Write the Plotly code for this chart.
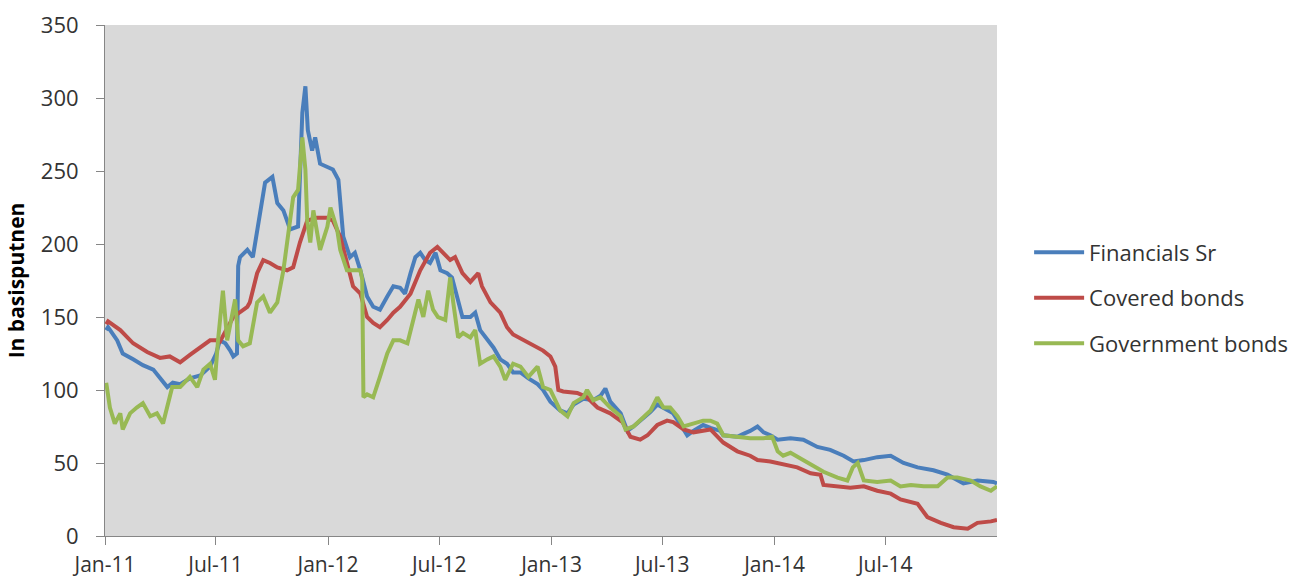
import plotly.graph_objects as go

# Financials Sr spread (basis points)
fin_dates = [
    "2011-01-03", "2011-01-06", "2011-01-21", "2011-01-30", "2011-02-16", "2011-03-04",
    "2011-03-21", "2011-04-04", "2011-04-13", "2011-04-22", "2011-05-04", "2011-05-20",
    "2011-06-06", "2011-06-22", "2011-07-02", "2011-07-08", "2011-07-17", "2011-07-25",
    "2011-07-30", "2011-08-05", "2011-08-07", "2011-08-10", "2011-08-22", "2011-08-31",
    "2011-09-12", "2011-09-20", "2011-10-02", "2011-10-10", "2011-10-20", "2011-10-31",
    "2011-11-13", "2011-11-20", "2011-11-25", "2011-11-29", "2011-12-06", "2011-12-11",
    "2011-12-19", "2011-12-31", "2012-01-09", "2012-01-18", "2012-01-21", "2012-01-26",
    "2012-02-06", "2012-02-14", "2012-02-23", "2012-03-05", "2012-03-15", "2012-03-26",
    "2012-04-07", "2012-04-17", "2012-04-28", "2012-05-06", "2012-05-15", "2012-05-23",
    "2012-05-31", "2012-06-08", "2012-06-16", "2012-06-25", "2012-07-03", "2012-07-14",
    "2012-07-22", "2012-07-31", "2012-08-08", "2012-08-21", "2012-08-29", "2012-09-06",
    "2012-09-18", "2012-09-28", "2012-10-09", "2012-10-20", "2012-10-30", "2012-11-11",
    "2012-11-24", "2012-12-09", "2012-12-18", "2012-12-30", "2013-01-15", "2013-01-27",
    "2013-02-06", "2013-02-22", "2013-03-10", "2013-03-22", "2013-03-30", "2013-04-07",
    "2013-04-24", "2013-05-05", "2013-05-15", "2013-05-26", "2013-06-12", "2013-06-23",
    "2013-07-09", "2013-07-19", "2013-08-05", "2013-08-11", "2013-08-21", "2013-09-06",
    "2013-09-18", "2013-10-04", "2013-10-09", "2013-11-01", "2013-11-11", "2013-11-22",
    "2013-12-04", "2013-12-14", "2013-12-25", "2014-01-06", "2014-01-27", "2014-02-17",
    "2014-03-12", "2014-04-02", "2014-04-24", "2014-05-10", "2014-05-27", "2014-06-18",
    "2014-07-10", "2014-07-31", "2014-08-23", "2014-09-18", "2014-10-11", "2014-11-06",
    "2014-11-29", "2014-12-25", "2014-12-31",
]
fin_values = [
    141, 143, 134, 125, 121, 117,
    114, 107, 102, 105, 104, 108,
    110, 116, 125, 134, 132, 127,
    123, 125, 185, 191, 196, 191,
    221, 242, 246, 228, 223, 210,
    212, 290, 308, 278, 264, 273,
    255, 253, 251, 244, 228, 205,
    191, 194, 182, 164, 157, 155,
    164, 171, 170, 166, 180, 191,
    194, 189, 187, 194, 182, 180,
    177, 162, 150, 150, 153, 141,
    134, 129, 121, 118, 112, 112,
    108, 104, 100, 92, 86, 84,
    90, 94, 93, 96, 101, 92,
    84, 72, 75, 79, 85, 90,
    86, 84, 73, 69, 72, 76,
    74, 72, 69, 68, 70, 72,
    75, 71, 69, 66, 67, 66,
    61, 59, 55, 51, 52, 54,
    55, 50, 47, 45, 42, 36,
    38, 37, 36,
]

# Covered bonds spread (basis points)
cov_dates = [
    "2011-01-03", "2011-01-06", "2011-01-26", "2011-02-16", "2011-03-11", "2011-04-01",
    "2011-04-17", "2011-05-04", "2011-05-20", "2011-06-06", "2011-06-22", "2011-07-02",
    "2011-07-08", "2011-07-30", "2011-08-10", "2011-08-22", "2011-08-26", "2011-09-07",
    "2011-09-17", "2011-09-28", "2011-10-10", "2011-10-26", "2011-11-05", "2011-11-16",
    "2011-11-28", "2011-12-14", "2011-12-31", "2012-01-09", "2012-01-21", "2012-02-01",
    "2012-02-11", "2012-02-23", "2012-03-05", "2012-03-15", "2012-03-26", "2012-04-07",
    "2012-04-17", "2012-04-28", "2012-05-15", "2012-05-31", "2012-06-16", "2012-06-28",
    "2012-07-08", "2012-07-19", "2012-07-27", "2012-08-08", "2012-08-21", "2012-09-03",
    "2012-09-09", "2012-09-23", "2012-10-09", "2012-10-20", "2012-10-30", "2012-11-16",
    "2012-12-02", "2012-12-18", "2012-12-30", "2013-01-07", "2013-01-12", "2013-01-20",
    "2013-02-12", "2013-02-28", "2013-03-17", "2013-04-07", "2013-04-27", "2013-05-10",
    "2013-05-26", "2013-06-07", "2013-06-23", "2013-07-09", "2013-07-19", "2013-08-05",
    "2013-08-21", "2013-09-18", "2013-10-09", "2013-11-01", "2013-11-22", "2013-12-04",
    "2013-12-25", "2014-01-15", "2014-02-07", "2014-03-01", "2014-03-17", "2014-03-22",
    "2014-04-14", "2014-05-05", "2014-05-27", "2014-06-18", "2014-07-10", "2014-07-26",
    "2014-08-23", "2014-09-08", "2014-09-30", "2014-10-21", "2014-11-13", "2014-11-29",
    "2014-12-21", "2014-12-31",
]
cov_values = [
    145, 147, 141, 132, 126, 122,
    123, 119, 124, 129, 134, 134,
    133, 150, 153, 157, 160, 180,
    189, 187, 184, 182, 184, 201,
    216, 218, 218, 216, 205, 187,
    171, 166, 150, 146, 143, 148,
    153, 157, 166, 182, 194, 198,
    194, 189, 191, 180, 174, 180,
    171, 160, 153, 143, 138, 134,
    131, 127, 123, 116, 100, 99,
    98, 95, 88, 84, 78, 68,
    66, 69, 76, 79, 78, 73,
    71, 73, 64, 58, 55, 52,
    51, 49, 47, 43, 42, 35,
    34, 33, 34, 31, 29, 25,
    22, 13, 9, 6, 5, 9,
    10, 11,
]

# Government bonds spread (basis points)
gov_dates = [
    "2011-01-03", "2011-01-09", "2011-01-17", "2011-01-26", "2011-01-30", "2011-02-11",
    "2011-02-22", "2011-03-04", "2011-03-16", "2011-03-27", "2011-04-06", "2011-04-14",
    "2011-04-21", "2011-05-04", "2011-05-20", "2011-06-01", "2011-06-11", "2011-06-22",
    "2011-06-30", "2011-07-05", "2011-07-13", "2011-07-20", "2011-07-28", "2011-08-02",
    "2011-08-07", "2011-08-15", "2011-08-26", "2011-09-07", "2011-09-17", "2011-09-28",
    "2011-10-10", "2011-10-20", "2011-11-05", "2011-11-13", "2011-11-20", "2011-11-25",
    "2011-11-28", "2011-12-03", "2011-12-08", "2011-12-19", "2011-12-31", "2012-01-05",
    "2012-01-16", "2012-01-21", "2012-02-01", "2012-02-11", "2012-02-23", "2012-02-26",
    "2012-02-28", "2012-03-05", "2012-03-15", "2012-03-26", "2012-04-07", "2012-04-17",
    "2012-04-28", "2012-05-10", "2012-05-19", "2012-05-28", "2012-06-05", "2012-06-13",
    "2012-06-21", "2012-06-29", "2012-07-11", "2012-07-19", "2012-07-24", "2012-08-01",
    "2012-08-09", "2012-08-21", "2012-08-29", "2012-09-06", "2012-09-18", "2012-09-28",
    "2012-10-09", "2012-10-17", "2012-10-30", "2012-11-11", "2012-11-24", "2012-12-09",
    "2012-12-18", "2012-12-30", "2013-01-15", "2013-01-27", "2013-02-06", "2013-02-22",
    "2013-02-28", "2013-03-10", "2013-03-22", "2013-04-07", "2013-04-24", "2013-05-02",
    "2013-05-15", "2013-05-26", "2013-06-12", "2013-06-23", "2013-07-03", "2013-07-14",
    "2013-07-26", "2013-08-05", "2013-08-21", "2013-09-06", "2013-09-18", "2013-09-29",
    "2013-10-09", "2013-11-01", "2013-11-22", "2013-12-14", "2013-12-28", "2014-01-06",
    "2014-01-15", "2014-01-27", "2014-02-12", "2014-03-01", "2014-03-22", "2014-04-14",
    "2014-04-30", "2014-05-09", "2014-05-17", "2014-05-27", "2014-06-18", "2014-07-10",
    "2014-07-26", "2014-08-12", "2014-09-02", "2014-09-25", "2014-10-11", "2014-10-27",
    "2014-11-18", "2014-12-04", "2014-12-21", "2014-12-31",
]
gov_values = [
    105, 88, 77, 84, 73, 84,
    88, 91, 82, 84, 77, 91,
    102, 102, 109, 102, 114, 118,
    107, 134, 168, 134, 150, 162,
    134, 130, 132, 160, 164, 153,
    160, 182, 232, 237, 273, 251,
    216, 201, 223, 196, 212, 225,
    210, 196, 182, 182, 182, 176,
    95, 97, 95, 109, 125, 134,
    134, 132, 148, 162, 150, 168,
    155, 150, 148, 177, 160, 136,
    139, 136, 141, 118, 121, 123,
    116, 107, 118, 116, 109, 116,
    102, 100, 86, 82, 91, 95,
    100, 93, 95, 88, 82, 73,
    75, 79, 86, 95, 88, 88,
    82, 75, 77, 79, 79, 77,
    69, 68, 67, 67, 68, 58,
    55, 57, 53, 49, 44, 40,
    38, 47, 50, 38, 37, 38,
    34, 35, 34, 34, 40, 40,
    38, 34, 31, 34,
]

series = [
    ("Financials Sr", fin_dates, fin_values, "#4A7EBB"),
    ("Covered bonds", cov_dates, cov_values, "#BE4B48"),
    ("Government bonds", gov_dates, gov_values, "#98B954"),
]

FONT = "Open Sans, Lato, sans-serif"
TEXT = "#333333"
AXIS = "#868686"

fig = go.Figure()
for i, (name, dates, values, color) in enumerate(series):
    fig.add_trace(go.Scatter(
        x=dates, y=values, name=name, mode="lines",
        line=dict(color=color, width=4),
        legendgroup=f"g{i}",
    ))

fig.update_layout(
    width=1290, height=579,
    margin=dict(l=105, r=293, t=25, b=43, autoexpand=False),
    paper_bgcolor="white",
    plot_bgcolor="#D9D9D9",
    font=dict(family=FONT, size=22, color=TEXT),
    showlegend=True,
    legend=dict(
        x=1.036, y=0.466, xanchor="left", yanchor="middle",
        font=dict(family=FONT, size=22, color=TEXT),
        tracegroupgap=14, itemwidth=50,
        bgcolor="rgba(0,0,0,0)",
    ),
    xaxis=dict(
        type="date",
        range=["2011-01-01", "2014-12-31"],
        tick0="2011-01-01", dtick="M6", tickformat="%b-%y",
        ticks="outside", ticklen=8, tickcolor=AXIS, tickwidth=1,
        ticklabelstandoff=2,
        showline=True, linecolor=AXIS, linewidth=1,
        showgrid=False, zeroline=False, automargin=False,
        tickfont=dict(family=FONT, size=21, color=TEXT),
    ),
    yaxis=dict(
        range=[0, 350], dtick=50,
        ticks="outside", ticklen=8, tickcolor=AXIS, tickwidth=1,
        ticklabelstandoff=13,
        showline=True, linecolor=AXIS, linewidth=1,
        showgrid=False, zeroline=False, automargin=False,
        tickfont=dict(family=FONT, size=22, color=TEXT),
        title=dict(text="<b>In basisputnen</b>", standoff=10,
                   font=dict(family=FONT, size=21, color="#000000")),
    ),
)

fig.write_html("out.html")
